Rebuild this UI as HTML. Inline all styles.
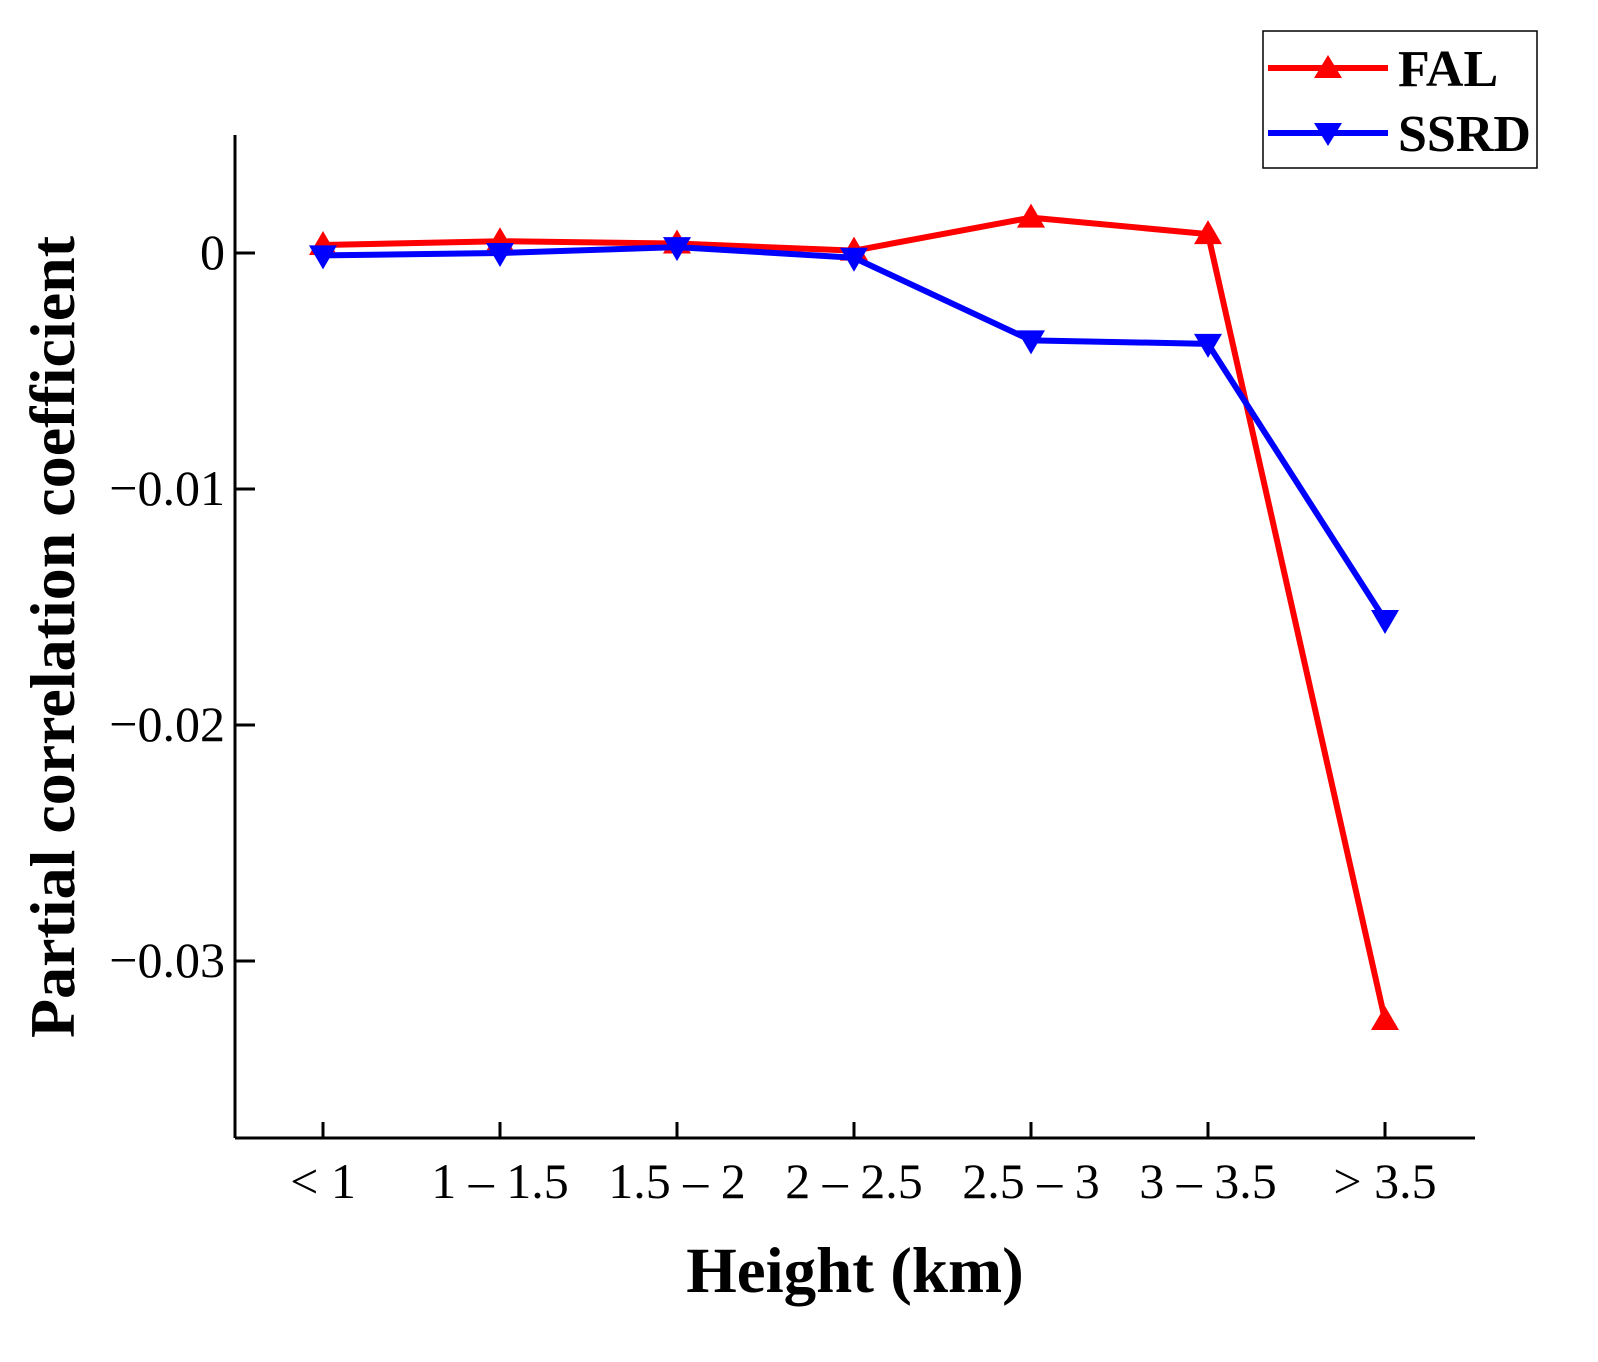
<!DOCTYPE html>
<html><head><meta charset="utf-8"><style>
html,body{margin:0;padding:0;background:#fff}
svg{display:block}
text{font-family:"Liberation Serif",serif;fill:#000}
</style></head><body>
<svg width="1598" height="1362" viewBox="0 0 1598 1362">
<g id="axes"></g>
<g id="series"></g>
<text x="855" y="1292" font-size="65" font-weight="bold" text-anchor="middle">Height (km)</text>
<text transform="translate(74,637) rotate(-90)" font-size="64" font-weight="bold" text-anchor="middle">Partial correlation coefficient</text>
<g>
<rect x="1263" y="31" width="274" height="137" fill="#fff" stroke="#000" stroke-width="1.5"/>
<g>
<line x1="1268" y1="68" x2="1388" y2="68" stroke="#ff0000" stroke-width="6"/>
<polygon points="1328,55 1342,78 1314,78" fill="#ff0000"/>
<text x="1398" y="86" font-size="52" font-weight="bold">FAL</text></g>
<g>
<line x1="1268" y1="133" x2="1388" y2="133" stroke="#0000ff" stroke-width="6"/>
<polygon points="1314,123 1342,123 1328,146" fill="#0000ff"/>
<text x="1398" y="151" font-size="52" font-weight="bold">SSRD</text></g>
</g>
</svg>
<script>
const categories = ["< 1","1 – 1.5","1.5 – 2","2 – 2.5","2.5 – 3","3 – 3.5","> 3.5"];
const falValues = [0.00034,0.0005,0.0004,0.0001,0.0015,0.0008,-0.0325];
const ssrdValues = [-0.0001,0.0,0.00025,-0.0002,-0.0037,-0.00385,-0.01555];
const yTicks = [0,-0.01,-0.02,-0.03];
const yTickLabels = ["0","−0.01","−0.02","−0.03"];
const NS="http://www.w3.org/2000/svg";
const x0=235,x1=1475,yTop=135,yBot=1138;
const yMin=-0.0375,yMax=0.005;
function xs(i){return 323+i*177;}
function ys(v){return yBot-(v-yMin)/(yMax-yMin)*(yBot-yTop);}
function mk(t,a,p){const e=document.createElementNS(NS,t);for(const k in a)e.setAttribute(k,a[k]);p.appendChild(e);return e;}
const ax=document.getElementById('axes');
const yl=mk('line',{x1:x0,y1:yTop,x2:x0,y2:yBot,stroke:'#000','stroke-width':3},ax);


const xl=mk('line',{x1:x0,y1:yBot,x2:x1,y2:yBot,stroke:'#000','stroke-width':3},ax);


yTicks.forEach((v,i)=>{
 const y=ys(v);
 const t=mk('line',{x1:x0,y1:y,x2:x0+20,y2:y,stroke:'#000','stroke-width':3},ax);
 
 
 const l=mk('text',{x:x0-10,y:y+16,'font-size':50,'text-anchor':'end'},ax);
 l.textContent=yTickLabels[i];
 
 
});
categories.forEach((c,i)=>{
 const x=xs(i);
 const t=mk('line',{x1:x,y1:yBot,x2:x,y2:yBot-16,stroke:'#000','stroke-width':3},ax);
 
 
 const l=mk('text',{x:x,y:1198,'font-size':50,'text-anchor':'middle'},ax);
 l.textContent=c;
 
 
});
const sg=document.getElementById('series');
function drawSeries(vals,color,up,name){
 const pts=vals.map((v,i)=>xs(i)+','+ys(v)).join(' ');
 const pl=mk('polyline',{points:pts,fill:'none',stroke:color,'stroke-width':6,'stroke-linejoin':'round'},sg);
 
 
 vals.forEach((v,i)=>{
  const x=xs(i),y=ys(v);
  const p=up?`${x},${y-14} ${x+14},${y+10} ${x-14},${y+10}`:`${x-14},${y-10} ${x+14},${y-10} ${x},${y+14}`;
  const m=mk('polygon',{points:p,fill:color},sg);
  
  
 });
}
drawSeries(falValues,'#ff0000',true,'fal');
drawSeries(ssrdValues,'#0000ff',false,'ssrd');
</script>
</body></html>
